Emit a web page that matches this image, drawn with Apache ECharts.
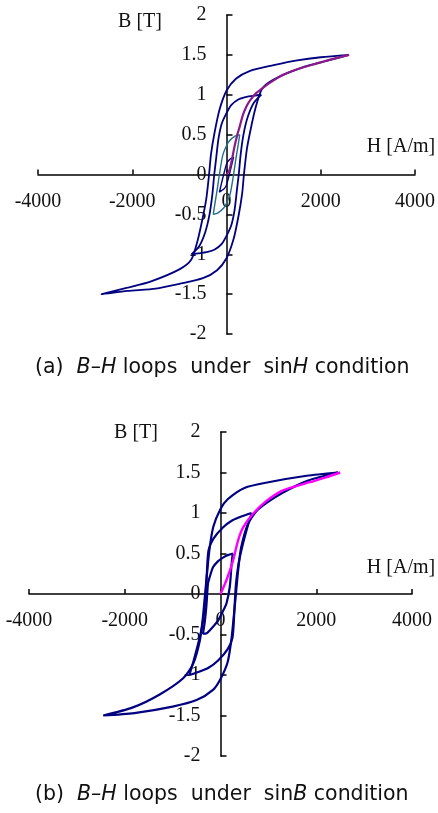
<!DOCTYPE html>
<html>
<head>
<meta charset="utf-8">
<script src="https://cdn.jsdelivr.net/npm/echarts@6/dist/echarts.min.js"></script>
<style>
  html, body { margin: 0; padding: 0; background: #fff; }
  #main { width: 438px; height: 813px; }
</style>
</head>
<body>
<div id="main"></div>
<script>
  // tick labels
  var hTicks = [-4000, 4000, 2000]; // min, max, step
  var bTicks = [-2, 2, 0.5];

  // (a) sinH condition : [H, B]
  var aLoop15 = [
    [2600, 1.5], [2000, 1.47], [1500, 1.43], [1000, 1.37], [500, 1.3], [200, 1.2], [0, 1.05],
    [-150, 0.81], [-255, 0.52], [-330, 0.25], [-370, 0], [-430, -0.31], [-500, -0.53],
    [-610, -0.82], [-750, -1.07], [-1000, -1.19], [-1600, -1.34], [-2100, -1.42], [-2650, -1.5],
    [-2100, -1.46], [-1500, -1.43], [-1000, -1.37], [-500, -1.3], [-200, -1.2], [0, -1.05],
    [150, -0.81], [255, -0.52], [330, -0.25], [370, 0], [430, 0.31], [500, 0.53],
    [610, 0.82], [750, 1.07], [1000, 1.19], [1600, 1.34], [2100, 1.42], [2600, 1.5]
  ];
  var aLoop10 = [
    [740, 1.0], [600, 0.99], [400, 0.97], [250, 0.94], [100, 0.87], [0, 0.77], [-100, 0.64],
    [-170, 0.45], [-220, 0.2], [-260, 0], [-300, -0.25], [-360, -0.5], [-450, -0.72],
    [-580, -0.9], [-740, -1.0],
    [-600, -0.99], [-400, -0.97], [-250, -0.94], [-100, -0.87], [0, -0.77], [100, -0.64],
    [170, -0.45], [220, -0.2], [260, 0], [300, 0.25], [360, 0.5], [450, 0.72],
    [580, 0.9], [740, 1.0]
  ];
  var aLoop05 = [
    [280, 0.5], [180, 0.48], [60, 0.42], [0, 0.36], [-80, 0.24], [-150, 0], [-200, -0.2],
    [-250, -0.38], [-280, -0.5],
    [-180, -0.48], [-60, -0.42], [0, -0.36], [80, -0.24], [150, 0], [200, 0.2],
    [250, 0.38], [280, 0.5]
  ];
  var aLoop02 = [
    [150, 0.22], [50, 0.18], [0, 0.13], [-60, 0], [-110, -0.12], [-150, -0.22],
    [-50, -0.18], [0, -0.13], [60, 0], [110, 0.12], [150, 0.22]
  ];
  var aInitial = [
    [0, 0], [60, 0.05], [120, 0.2], [170, 0.35], [230, 0.5], [280, 0.6], [350, 0.75],
    [420, 0.85], [500, 0.93], [630, 1.02], [800, 1.1], [1000, 1.18], [1200, 1.25],
    [1500, 1.32], [1900, 1.39], [2200, 1.44], [2600, 1.5]
  ];

  // (b) sinB condition
  var bLoop15 = [
    [2450, 1.5], [1800, 1.46], [1000, 1.38], [500, 1.31], [150, 1.17], [0, 1.05],
    [-150, 0.83], [-230, 0.55], [-290, 0.2], [-330, -0.05], [-370, -0.3], [-430, -0.57],
    [-570, -0.86], [-780, -1.04], [-1270, -1.24], [-1830, -1.4], [-2450, -1.5],
    [-1800, -1.47], [-1000, -1.39], [-500, -1.31], [-150, -1.18], [0, -1.05],
    [150, -0.84], [230, -0.55], [290, -0.2], [330, 0.05], [370, 0.3], [430, 0.57],
    [570, 0.86], [780, 1.04], [1270, 1.24], [1830, 1.4], [2450, 1.5]
  ];
  var bLoop10 = [
    [650, 1.0], [450, 0.96], [250, 0.91], [50, 0.82], [-150, 0.68], [-250, 0.54],
    [-290, 0.2], [-320, -0.1], [-370, -0.35], [-440, -0.55], [-560, -0.82], [-650, -1.0],
    [-450, -0.96], [-250, -0.91], [-50, -0.82], [150, -0.68], [250, -0.54],
    [290, -0.2], [320, 0.1], [370, 0.35], [440, 0.55], [560, 0.82], [650, 1.0]
  ];
  var bLoop05 = [
    [261, 0.5], [150, 0.48], [52, 0.45], [-60, 0.4], [-157, 0.33], [-230, 0.2],
    [-261, 0.13], [-295, -0.15], [-330, -0.35], [-366, -0.49],
    [-310, -0.49], [-226, -0.45], [-52, -0.33], [60, -0.2], [123, -0.12], [192, 0.08],
    [227, 0.33], [245, 0.45], [261, 0.5]
  ];
  var bInitial = [
    [0, 0], [123, 0.17], [261, 0.41], [366, 0.66], [470, 0.82], [679, 0.99], [959, 1.15],
    [1306, 1.28], [1864, 1.38], [2200, 1.44], [2500, 1.5]
  ];

  var navy = "#000080";
  var serif = "Liberation Serif";
  var sans = "DejaVu Sans";

  // grids: [left, top, width, height]
  var gridBoxes = [
    [38, 15, 377, 319],
    [29, 432, 383, 324],
  ];

  // axes cross at zero: shift the whole axis (line + labels) into the grid
  function xAxisFor(i) {
    return {
      type: "value",
      gridIndex: i,
      min: hTicks[0],
      max: hTicks[1],
      interval: hTicks[2],
      position: "bottom",
      offset: -gridBoxes[i][3] / 2,
      axisLine: { onZero: false, lineStyle: { color: "#000", width: 1.5 } },
      axisTick: { inside: true, length: 5, lineStyle: { color: "#000", width: 1.5 } },
      axisLabel: {
        margin: 17, color: "#111", fontFamily: serif, fontSize: 20,
        formatter: function (v) { return String(v); },
      },
      splitLine: { show: false },
    };
  }
  function yAxisFor(i) {
    return {
      type: "value",
      gridIndex: i,
      min: bTicks[0],
      max: bTicks[1],
      interval: bTicks[2],
      position: "left",
      offset: -gridBoxes[i][2] / 2,
      axisLine: { onZero: false, lineStyle: { color: "#000", width: 1.5 } },
      axisTick: { inside: true, length: 6, lineStyle: { color: "#000", width: 1.5 } },
      axisLabel: {
        margin: 20, color: "#111", fontFamily: serif, fontSize: 20,
        formatter: function (v) { return String(v); },
      },
      splitLine: { show: false },
    };
  }
  function loop(data, i, color, w) {
    return {
      type: "line",
      xAxisIndex: i,
      yAxisIndex: i,
      data: data,
      smooth: 0.25,
      showSymbol: false,
      silent: true,
      lineStyle: { color: color, width: w || 1.8 },
    };
  }

  var option = {
    animation: false,
    grid: gridBoxes.map(function (g) {
      return { left: g[0], top: g[1], width: g[2], height: g[3], outerBoundsMode: "none", containLabel: false };
    }),
    xAxis: [xAxisFor(0), xAxisFor(1)],
    yAxis: [yAxisFor(0), yAxisFor(1)],
    series: [
      loop(aLoop15, 0, navy),
      loop(aLoop10, 0, navy),
      loop(aLoop05, 0, "#1f6f8b", 1.4),
      loop(aLoop02, 0, navy, 1.4),
      loop(aInitial, 0, "#8b1a8b", 2.2),
      loop(bLoop15, 1, navy, 2.2),
      loop(bLoop10, 1, navy, 2.2),
      loop(bLoop05, 1, navy, 2.2),
      loop(bInitial, 1, "#ff00ff", 2.4),
    ],
    graphic: [
      { type: "text", x: 140, y: 22, style: { text: "B [T]", font: "20px " + serif, fill: "#111", align: "center", verticalAlign: "middle" } },
      { type: "text", x: 401, y: 147, style: { text: "H [A/m]", font: "20px " + serif, fill: "#111", align: "center", verticalAlign: "middle" } },
      { type: "text", x: 136, y: 433, style: { text: "B [T]", font: "20px " + serif, fill: "#111", align: "center", verticalAlign: "middle" } },
      { type: "text", x: 401, y: 568, style: { text: "H [A/m]", font: "20px " + serif, fill: "#111", align: "center", verticalAlign: "middle" } },
      {
        type: "text", x: 35, y: 368,
        style: {
          text: "(a)  {i|B\u2013H} loops  under  sin{i|H} condition",
          fontFamily: sans, fontSize: 20.5, fill: "#111", verticalAlign: "middle",
          rich: { i: { fontFamily: sans, fontSize: 20.5, fontStyle: "italic", fill: "#111" } },
        },
      },
      {
        type: "text", x: 35, y: 795,
        style: {
          text: "(b)  {i|B\u2013H} loops  under  sin{i|B} condition",
          fontFamily: sans, fontSize: 20.5, fill: "#111", verticalAlign: "middle",
          rich: { i: { fontFamily: sans, fontSize: 20.5, fontStyle: "italic", fill: "#111" } },
        },
      },
    ],
  };

  var chart = echarts.init(document.getElementById("main"));
  chart.setOption(option);
</script>
</body>
</html>
